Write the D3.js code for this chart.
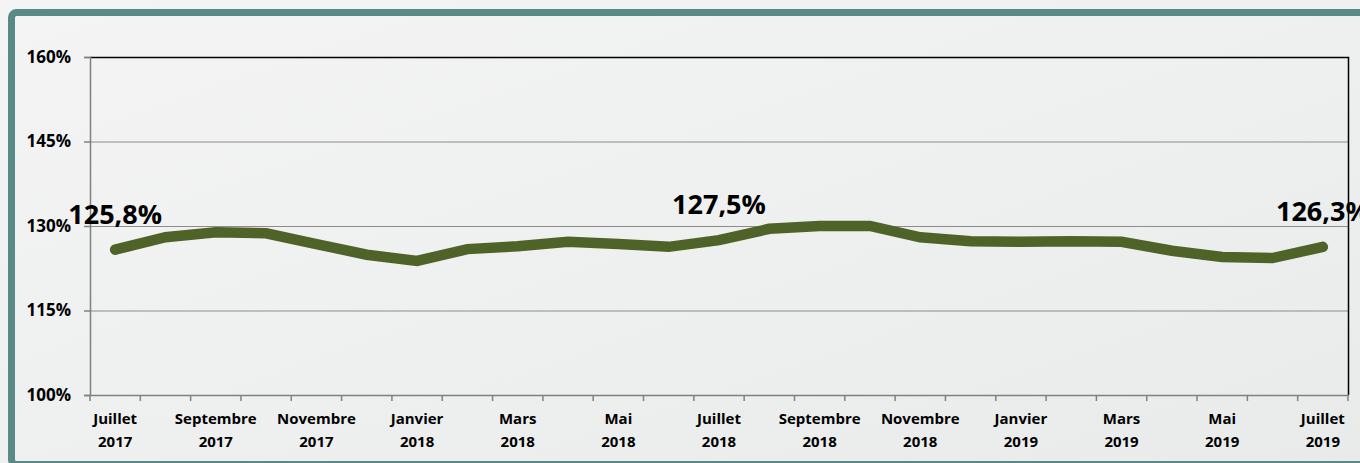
<!DOCTYPE html>
<html lang="fr">
<head>
    <meta charset="UTF-8">
    <title>Taux</title>
    <style>
        body { margin: 0; background: #eeefef; }
        text { font-family: "Open Sans", sans-serif; font-weight: bold; fill: #000; }
    </style>
</head>
<body>
<script src="https://d3js.org/d3.v7.min.js"></script>
<script>
    // Data
    const months = ["Juillet 2017", "Août 2017", "Septembre 2017", "Octobre 2017", "Novembre 2017", "Décembre 2017",
        "Janvier 2018", "Février 2018", "Mars 2018", "Avril 2018", "Mai 2018", "Juin 2018",
        "Juillet 2018", "Août 2018", "Septembre 2018", "Octobre 2018", "Novembre 2018", "Décembre 2018",
        "Janvier 2019", "Février 2019", "Mars 2019", "Avril 2019", "Mai 2019", "Juin 2019", "Juillet 2019"];
    const values = [125.8, 128.0, 128.9, 128.7, 126.8, 124.9, 123.8, 125.9, 126.4, 127.2, 126.8, 126.3,
        127.5, 129.5, 130.0, 130.0, 128.0, 127.3, 127.2, 127.3, 127.2, 125.6, 124.5, 124.3, 126.3];
    const yTicks = [100, 115, 130, 145, 160];
    const labelled = [0, 12, 24];

    // Dimensions
    const W = 1360, H = 463;
    const pLeft = 90, pRight = 1348, pTop = 57, pBottom = 395;

    const svg = d3.select("body").append("svg")
        .attr("width", W).attr("height", H);

    // background gradient
    const defs = svg.append("defs");
    const grad = defs.append("linearGradient").attr("id", "bg")
        .attr("x1", "0").attr("y1", "0").attr("x2", "1").attr("y2", "1");
    grad.append("stop").attr("offset", "0").attr("stop-color", "#f4f4f4");
    grad.append("stop").attr("offset", "1").attr("stop-color", "#e9ebeb");

    svg.append("rect").attr("width", W).attr("height", H).attr("fill", "url(#bg)");

    // teal frame
    svg.append("rect")
        .attr("x", 11.5).attr("y", 12.5)
        .attr("width", 1400).attr("height", 452)
        .attr("rx", 5)
        .attr("fill", "none")
        .attr("stroke", "#5a8a86")
        .attr("stroke-width", 7);

    const x = d3.scaleBand().domain(months).range([pLeft, pRight]);
    const y = d3.scaleLinear().domain([100, 160]).range([pBottom, pTop]);

    // gridlines
    svg.append("g").selectAll("line")
        .data(yTicks.filter(d => d > 100 && d < 160))
        .enter().append("line")
        .attr("x1", pLeft).attr("x2", pRight)
        .attr("y1", d => y(d) + 0.5).attr("y2", d => y(d) + 0.5)
        .attr("stroke", "#8c8c8c").attr("stroke-width", 1);

    // top and right border
    svg.append("path")
        .attr("d", `M${pLeft},${pTop + 0.5}H${pRight + 0.5}V${pBottom}`)
        .attr("fill", "none").attr("stroke", "#000").attr("stroke-width", 1.5);

    // y axis
    const yAxis = svg.append("g")
        .attr("transform", `translate(${pLeft},0)`)
        .call(d3.axisLeft(y).tickValues(yTicks).tickSize(6).tickFormat(d => d + "%"));
    yAxis.select(".domain").attr("stroke", "#808080").attr("stroke-width", 1.5);
    yAxis.selectAll(".tick line").attr("stroke", "#808080").attr("stroke-width", 1.5);
    yAxis.selectAll(".tick text").attr("x", -19).attr("font-size", 17);

    // x axis
    const xAxis = svg.append("g")
        .attr("transform", `translate(0,${pBottom})`)
        .call(d3.axisBottom(x).tickSize(0).tickFormat(""));
    xAxis.select(".domain").attr("stroke", "#808080").attr("stroke-width", 1.5);

    // tick marks on band boundaries
    const bounds = months.map(m => x(m)).concat([pRight]);
    svg.append("g").selectAll("line")
        .data(bounds).enter().append("line")
        .attr("x1", d => d).attr("x2", d => d)
        .attr("y1", pBottom).attr("y2", pBottom + 6)
        .attr("stroke", "#808080").attr("stroke-width", 1.5);

    // category labels (every second month)
    const lab = svg.append("g").selectAll("text")
        .data(months.filter((d, i) => i % 2 === 0))
        .enter().append("text")
        .attr("text-anchor", "middle")
        .attr("font-size", 15);
    lab.append("tspan")
        .attr("x", d => x(d) + x.bandwidth() / 2).attr("y", 424)
        .text(d => d.split(" ")[0]);
    lab.append("tspan")
        .attr("x", d => x(d) + x.bandwidth() / 2).attr("y", 447)
        .text(d => d.split(" ")[1]);

    // line
    const line = d3.line()
        .x((d, i) => x(months[i]) + x.bandwidth() / 2)
        .y(d => y(d));
    svg.append("path")
        .datum(values)
        .attr("fill", "none")
        .attr("stroke", "#4f6228")
        .attr("stroke-width", 10.5)
        .attr("stroke-linecap", "round")
        .attr("d", line);

    // data labels
    svg.append("g").selectAll("text")
        .data(labelled).enter().append("text")
        .attr("x", i => x(months[i]) + x.bandwidth() / 2)
        .attr("y", i => y(values[i]) - 26)
        .attr("text-anchor", "middle")
        .attr("font-size", 27)
        .text(i => values[i].toFixed(1).replace(".", ",") + "%");
</script>
</body>
</html>
